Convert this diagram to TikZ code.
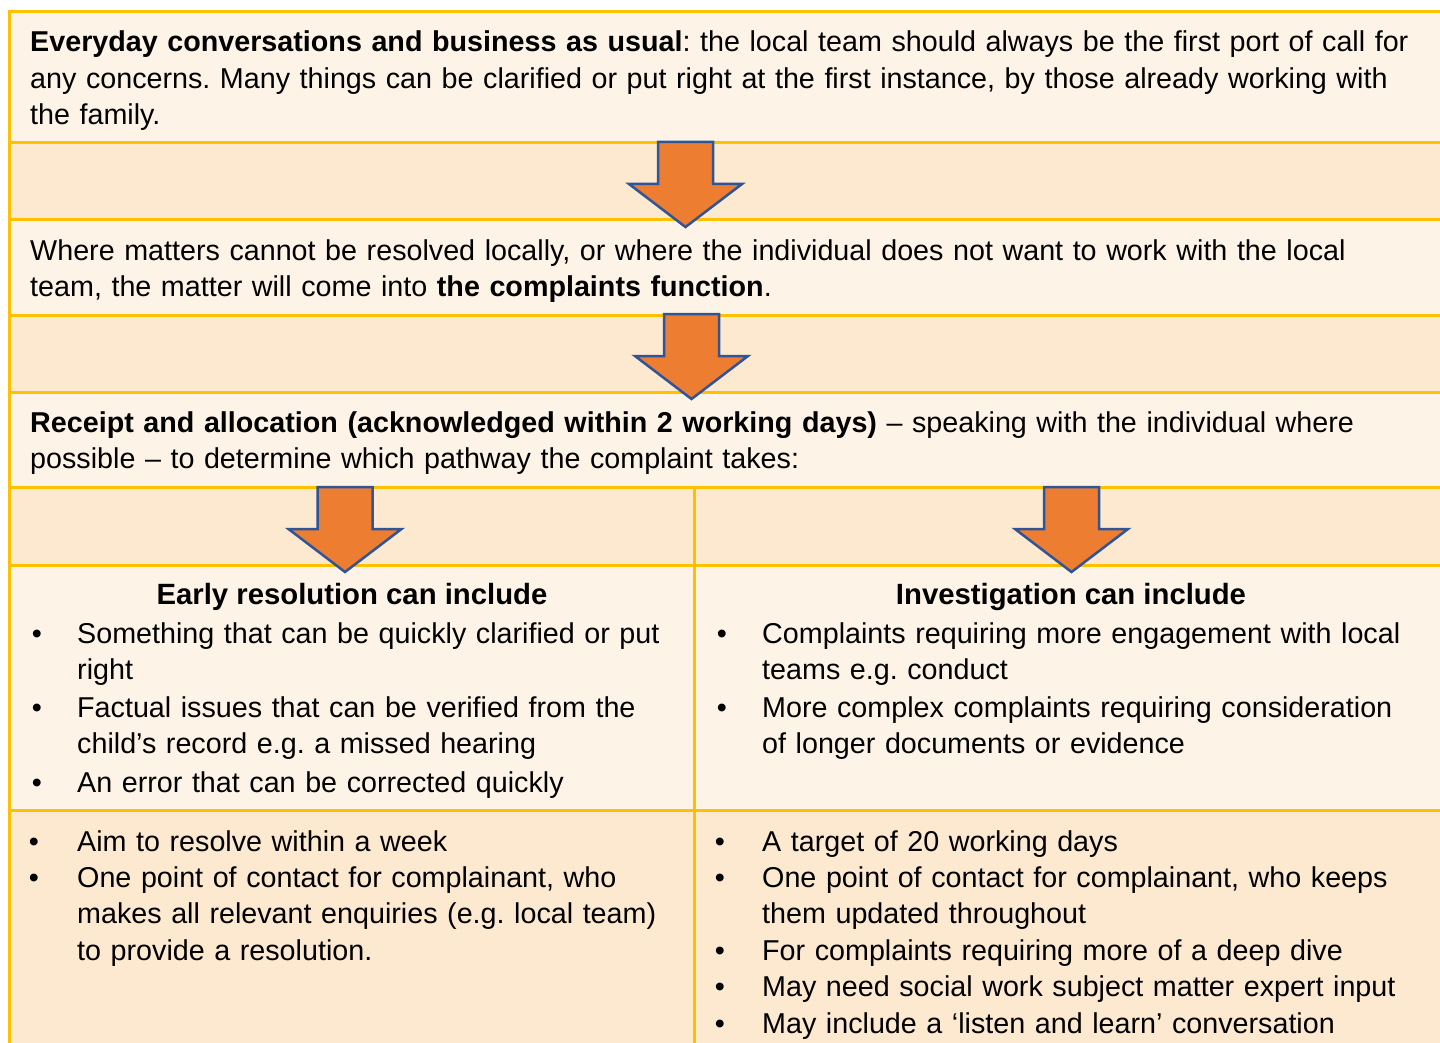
\documentclass[tikz,border=0pt]{standalone}
\usepackage{fontspec}
\setmainfont{Liberation Sans}
\usetikzlibrary{calc}

\definecolor{rowlight}{HTML}{FEF3E7}
\definecolor{rowdark}{HTML}{FDE8D0}
\definecolor{gridgold}{HTML}{FFC000}
\definecolor{arroworange}{HTML}{ED7D31}
\definecolor{arrowblue}{HTML}{2F5597}

\tikzset{
  rowline/.style={gridgold, line width=3pt},
  bodytext/.style={anchor=base west, inner sep=0pt, align=left, text width=1500pt,
    font=\fontsize{28.7}{36.5}\selectfont\frenchspacing},
  headtext/.style={anchor=base, inner sep=0pt, font=\fontsize{29.3}{36.5}\selectfont\bfseries},
  bulletmark/.style={anchor=base, inner sep=0pt, font=\fontsize{28.7}{36.5}\selectfont},
  blockarrow/.pic={
    \draw[fill=arroworange, draw=arrowblue, line width=2.5pt, line join=miter]
      (-27.5,0) -- (27.5,0) -- (27.5,42) -- (56.5,42) -- (0,85)
      -- (-56.5,42) -- (-27.5,42) -- cycle;
  }
}

\begin{document}
\begin{tikzpicture}[x=1pt,y=-1pt]
  \useasboundingbox (0,0) rectangle (1440,1043);
  \clip (0,0) rectangle (1440,1043);

  % table rows
  \foreach \ya/\yb/\cc in {12/143/rowlight,143/220/rowdark,220/315/rowlight,
      315/392/rowdark,392/487/rowlight,487/565/rowdark,565/810/rowlight,810/1060/rowdark}
    \fill[\cc] (9,\ya) rectangle (1460,\yb);
  \foreach \yy in {12,143,220,315,392,487,565,810}
    \draw[rowline] (9,\yy) -- (1460,\yy);
  \draw[rowline] (9,10.5) -- (9,1060);
  \draw[rowline] (694,487) -- (694,1060);

  % arrows between the rows
  \pic (arrA) at (685.5,142) {blockarrow};
  \pic (arrB) at (691.5,314) {blockarrow};
  \pic (arrC) at (345,487) {blockarrow};
  \pic (arrD) at (1071.5,487) {blockarrow};

  % full width texts
  \node[bodytext] (everyday) at (30,51.7) {\textbf{Everyday conversations and business as usual}: the local team should always be the first port of call for\\
    any concerns. Many things can be clarified or put right at the first instance, by those already working with\\
    the family.};
  \node[bodytext] (matters) at (30,260) {Where matters cannot be resolved locally, or where the individual does not want to work with the local\\
    team, the matter will come into \textbf{the complaints function}.};
  \node[bodytext] (receipt) at (30,432) {\textbf{Receipt and allocation (acknowledged within 2 working days)} – speaking with the individual where\\
    possible – to determine which pathway the complaint takes:};

  % column headings
  \node[headtext] (early) at (352,604) {Early resolution can include};
  \node[headtext] (invest) at (1071,604) {Investigation can include};

  % bullet lists
  \foreach \nm/\bx/\tx/\yy/\txt in {
      erA/37/77/643/{Something that can be quickly clarified or put\\ right},
      erB/37/77/717/{Factual issues that can be verified from the\\ child’s record e.g. a missed hearing},
      erC/37/77/792/{An error that can be corrected quickly},
      inA/722/762/643/{Complaints requiring more engagement with local\\ teams e.g. conduct},
      inB/722/762/717/{More complex complaints requiring consideration\\ of longer documents or evidence},
      ewA/34/77/851/{Aim to resolve within a week},
      ewB/34/77/887/{One point of contact for complainant, who\\ makes all relevant enquiries (e.g. local team)\\ to provide a resolution.},
      tgA/720/762/851/{A target of 20 working days},
      tgB/720/762/887/{One point of contact for complainant, who keeps\\ them updated throughout},
      tgC/720/762/960/{For complaints requiring more of a deep dive},
      tgD/720/762/996/{May need social work subject matter expert input},
      tgE/720/762/1033/{May include a ‘listen and learn’ conversation}}{
    \node[bulletmark] (\nm dot) at (\bx,\yy) {•};
    \node[bodytext, text width=660pt] (\nm) at (\tx,\yy) {\txt};
  }
\end{tikzpicture}
\end{document}
